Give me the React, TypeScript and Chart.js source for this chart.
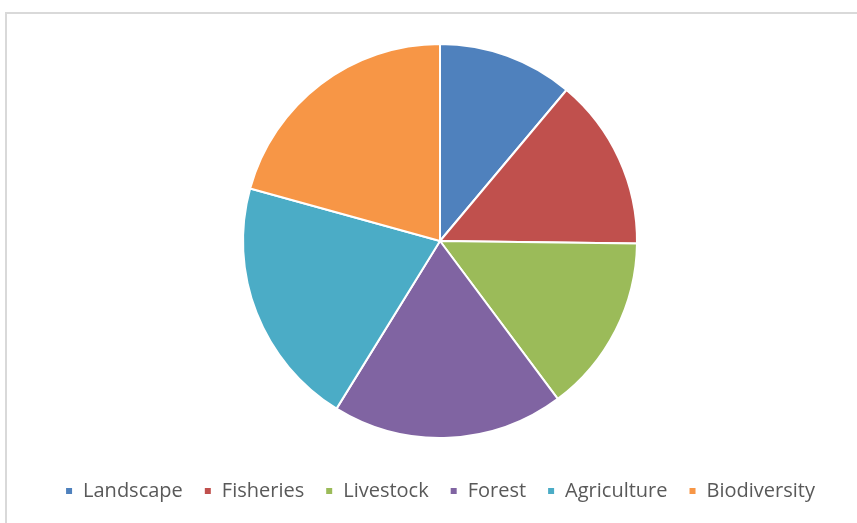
import React, { useEffect, useRef } from "react";
import { Chart, registerables } from "chart.js";

Chart.register(...registerables);

const categories = ["Landscape", "Fisheries", "Livestock", "Forest", "Agriculture", "Biodiversity"];
const values = [11.1, 14.1, 14.6, 19.0, 20.5, 20.7];
const colors = ["#4F81BD", "#C0504D", "#9BBB59", "#8064A2", "#4BACC6", "#F79646"];

export default function App() {
  const ref = useRef<HTMLCanvasElement | null>(null);
  useEffect(() => {
    document.body.style.margin = "0";
    if (!ref.current) return;
    const chart = new Chart(ref.current, {
      type: "pie",
      data: {
        labels: categories,
        datasets: [
          {
            data: values,
            backgroundColor: colors,
            borderColor: "#ffffff",
            borderWidth: 2,
            radius: 197,
          },
        ],
      },
      options: {
        animation: false,
        responsive: false,
        maintainAspectRatio: false,
        layout: { padding: { top: 22, left: 23, right: 0, bottom: 12 } },
        plugins: {
          tooltip: { enabled: false },
          legend: {
            position: "bottom",
            labels: {
              boxWidth: 8,
              boxHeight: 8,
              padding: 21,
              color: "#595959",
              font: { family: "'Open Sans', sans-serif", size: 20 },
            },
          },
        },
      },
    });
    return () => chart.destroy();
  }, []);
  return (
    <div style={{ position: "fixed", left: 0, top: 0, width: 857, height: 523, background: "#fff", overflow: "hidden" }}>
      <div
        style={{
          position: "absolute",
          left: 5,
          top: 12,
          width: 900,
          height: 600,
          border: "2px solid #d9d9d9",
          boxSizing: "border-box",
        }}
      />
      <canvas ref={ref} width={857} height={523} style={{ position: "absolute", left: 0, top: 0, width: 857, height: 523 }} />
    </div>
  );
}
